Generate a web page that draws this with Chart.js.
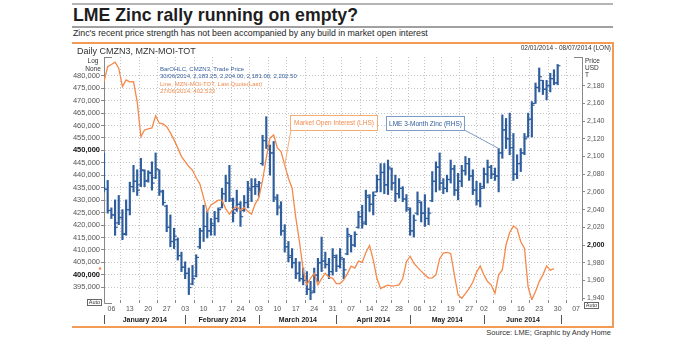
<!DOCTYPE html>
<html>
<head>
<meta charset="utf-8">
<title>LME Zinc rally running on empty?</title>
<script src="https://cdn.jsdelivr.net/npm/chart.js@4.4.1/dist/chart.umd.min.js"></script>
<style>
  html, body { margin: 0; padding: 0; background: #fff; }
  body { position: relative; width: 692px; height: 338px; overflow: hidden;
         font-family: "Liberation Sans", Arial, sans-serif; color: #1e1e1e; }
  .txt { position: absolute; white-space: nowrap; }
  .rule { position: absolute; left: 72px; width: 541px; height: 2px; background: #b4b4b4; }
  .frame { position: absolute; background: #f39b55; }
  #title { left: 73px; top: 7px; font-size: 17.7px; line-height: 17.5px; font-weight: bold; }
  #subtitle { left: 73px; top: 29.3px; font-size: 8.8px; line-height: 8.8px; }
  #source { right: 81px; top: 328.6px; font-size: 7.5px; line-height: 7.5px; color: #333; }
  canvas { position: absolute; left: 0; top: 0; }
</style>
</head>
<body>
<div class="rule" style="top:3px"></div>
<div class="txt" id="title">LME Zinc rally running on empty?</div>
<div class="rule" style="top:26px;background:#a0a0a0"></div>
<div class="txt" id="subtitle">Zinc's recent price strength has not been accompanied by any build in market open interest</div>
<div class="frame" style="left:72px;top:42px;width:542px;height:1.5px"></div>
<div class="frame" style="left:612px;top:42px;width:2px;height:285px"></div>
<div class="frame" style="left:72px;top:325.5px;width:542px;height:2px"></div>
<div class="txt" id="source">Source: LME; Graphic by Andy Home</div>
<canvas id="chart" width="692" height="338"></canvas>

<script>
const FONT = "'Liberation Sans', Arial, sans-serif";

// --- data ---
// LME 3-month zinc, daily bars (USD/T), 2 Jan - 30 Jun 2014
const priceOpen = [
  2098, 2063, 2039, 2034, 2025, 2031, 2013, 2040, 2066, 2072, 2068, 2084, 2073, 2081, 2076, 2085, 2060, 2044, 2020, 2004,
  2006, 1988, 1975, 1968, 1956, 1965, 1998, 2016, 2021, 2016, 2022, 2030, 2042, 2058, 2070, 2050, 2040, 2046, 2039, 2048,
  2062, 2066, 2066, 2092, 2118, 2108, 2104, 2052, 2044, 2016, 1998, 1988, 1980, 1968, 1962, 1960, 1950, 1948, 1966, 1980,
  1982, 1978, 1970, 1986, 1976, 1984, 1990, 2010, 2000, 2020, 2032, 2026, 2054, 2046, 2060, 2074, 2082, 2068, 2086, 2070,
  2058, 2064, 2052, 2040, 2016, 2036, 2048, 2036, 2030, 2050, 2072, 2088, 2070, 2064, 2074, 2086, 2062, 2072, 2084, 2092,
  2078, 2062, 2050, 2066, 2080, 2088, 2080, 2078, 2104, 2130, 2120, 2110, 2080, 2092, 2104, 2122, 2142, 2160, 2178, 2186,
  2176, 2180, 2188, 2183.25
];
const priceHigh = [
  2104, 2073, 2042, 2051, 2056, 2040, 2051, 2071, 2090, 2085, 2098, 2085, 2084, 2094, 2104, 2085, 2062, 2045, 2034, 2019,
  2008, 1992, 1981, 1974, 1977, 1989, 2019, 2045, 2038, 2030, 2038, 2042, 2064, 2079, 2090, 2053, 2062, 2049, 2056, 2072,
  2075, 2075, 2072, 2124, 2145, 2113, 2117, 2057, 2049, 2023, 2004, 1996, 1985, 1981, 1974, 1970, 1959, 1974, 1985, 2009,
  1992, 1985, 1996, 1989, 1996, 1985, 2019, 2011, 2015, 2038, 2045, 2062, 2057, 2060, 2079, 2092, 2092, 2096, 2087, 2079,
  2075, 2066, 2057, 2042, 2034, 2060, 2049, 2057, 2042, 2083, 2094, 2104, 2075, 2079, 2096, 2090, 2081, 2090, 2100, 2098,
  2085, 2072, 2070, 2087, 2096, 2090, 2087, 2109, 2147, 2143, 2149, 2126, 2102, 2109, 2126, 2149, 2162, 2183, 2200, 2186,
  2186, 2194, 2198, 2204
];
const priceLow = [
  2060, 2036, 2030, 2011, 2023, 2006, 2011, 2034, 2060, 2056, 2066, 2066, 2071, 2062, 2075, 2056, 2045, 2015, 1998, 1996,
  1983, 1970, 1962, 1944, 1955, 1964, 1996, 2004, 2008, 2011, 2011, 2026, 2042, 2049, 2049, 2026, 2038, 2021, 2038, 2042,
  2049, 2057, 2055, 2090, 2109, 2079, 2049, 2034, 2011, 1992, 1981, 1974, 1962, 1959, 1955, 1944, 1938, 1946, 1959, 1970,
  1974, 1962, 1966, 1970, 1974, 1962, 1989, 1992, 1998, 2019, 2019, 2023, 2038, 2034, 2060, 2060, 2058, 2057, 2062, 2049,
  2053, 2049, 2038, 2011, 2009, 2034, 2026, 2021, 2023, 2049, 2060, 2062, 2058, 2060, 2070, 2056, 2051, 2066, 2079, 2073,
  2057, 2045, 2043, 2064, 2070, 2075, 2073, 2060, 2098, 2109, 2102, 2073, 2075, 2083, 2102, 2122, 2122, 2160, 2173, 2170,
  2164, 2173, 2181, 2181
];
const priceClose = [
  2063, 2039, 2034, 2020, 2031, 2012, 2040, 2066, 2072, 2062, 2085, 2072, 2082, 2070, 2086, 2061, 2048, 2020, 2004, 2010,
  1988, 1975, 1968, 1952, 1962, 1986, 2016, 2021, 2016, 2024, 2030, 2040, 2058, 2070, 2052, 2036, 2046, 2032, 2048, 2064,
  2066, 2068, 2070, 2118, 2112, 2104, 2054, 2042, 2016, 1998, 1986, 1980, 1968, 1962, 1960, 1950, 1946, 1966, 1980, 1982,
  1978, 1970, 1988, 1976, 1986, 1972, 2012, 2000, 2012, 2032, 2024, 2056, 2046, 2056, 2074, 2082, 2068, 2088, 2070, 2058,
  2064, 2052, 2042, 2016, 2028, 2050, 2036, 2030, 2036, 2072, 2088, 2070, 2064, 2074, 2086, 2062, 2072, 2084, 2092, 2078,
  2062, 2050, 2064, 2080, 2088, 2080, 2078, 2104, 2130, 2120, 2110, 2080, 2092, 2104, 2120, 2142, 2158, 2178, 2190, 2176,
  2180, 2188, 2183, 2202.5
];

// MZN market open interest (lots), 2 Jan - 27 Jun 2014
const openInterest = [
  477600, 483600, 484500, 485400, 483000, 475600, 478300, 477500, 477600, 469600,
  455500, 458200, 458600, 459000, 463900, 460900, 460600, 459500, 457000, 454200,
  451000, 447500, 445500, 443500, 442000, 439000, 436500, 431000, 425400, 428100,
  429000, 430000, 430000, 426500, 424400, 426500, 427400, 426000, 427000, 425500,
  424400, 428500, 431000, 438000, 447000, 454900, 456200, 451000, 449500, 444100,
  438800, 434800, 423000, 413300, 402000, 396000, 398600, 400600, 396000, 398500,
  400600, 399000, 398700, 396500, 396500, 398000, 400500, 403500, 402700, 405500,
  405000, 409000, 411800, 406000, 398500, 394500, 395300, 395900, 395500, 395700,
  396000, 398500, 405300, 407500, 404700, 403000, 401500, 400000, 398700, 398800,
  400000, 406500, 408700, 409000, 408600, 400000, 391900, 390600, 392500, 394600,
  397000, 401000, 403600, 400000, 397300, 395900, 392600, 400000, 402000, 412000,
  417000, 419600, 418500, 413300, 410700, 395000, 390000, 393300, 397300, 400000,
  403600, 401900, 402533
];

const oiTicks = [395000, 400000, 405000, 410000, 415000, 420000, 425000, 430000, 435000,
                 440000, 445000, 450000, 455000, 460000, 465000, 470000, 475000, 480000];
const priceTicks = [1940, 1960, 1980, 2000, 2020, 2040, 2060, 2080, 2100, 2120, 2140, 2160, 2180];
const boldTicks = [400000, 450000, 2000];
const monthNames = ['January 2014', 'February 2014', 'March 2014', 'April 2014', 'May 2014', 'June 2014', 'July 2014'];
const ukHolidays = ['2014-01-01', '2014-04-18', '2014-04-21', '2014-05-05', '2014-05-26'];

// --- trading calendar (x axis runs on trading days) ---
const tradingDays = [];
for (let t = Date.UTC(2014, 0, 2); t <= Date.UTC(2014, 6, 8); t += 86400000) {
  const d = new Date(t);
  const iso = d.toISOString().slice(0, 10);
  if (d.getUTCDay() === 0 || d.getUTCDay() === 6 || ukHolidays.includes(iso)) continue;
  tradingDays.push(d);
}
const weekStarts = tradingDays.map((d, i) => i).filter(i => i > 0 && tradingDays[i].getUTCDay() < tradingDays[i - 1].getUTCDay());
const monthStarts = tradingDays.map((d, i) => i).filter(i => i === 0 || tradingDays[i].getUTCMonth() !== tradingDays[i - 1].getUTCMonth());

const BLUE = '#2f5e9e';
const ORANGE = '#f5894a';

// --- decorations: captions, month row, callouts ---
const chartDecor = {
  id: 'chartDecor',
  afterDraw(chart) {
    const { ctx, chartArea: area } = chart;
    const { x, yL, yR } = chart.scales;
    ctx.save();
    ctx.textBaseline = 'middle';

    ctx.fillStyle = '#333';
    ctx.textAlign = 'left';
    ctx.font = `9px ${FONT}`;
    ctx.fillText('Daily CMZN3, MZN-MOI-TOT', 77, 51.5);
    ctx.font = `6.5px ${FONT}`;
    ctx.textAlign = 'right';
    ctx.fillText('02/01/2014 - 08/07/2014 (LON)', 611, 48);

    ctx.textAlign = 'center';
    ctx.fillText('Log', 93, 61.5);
    ctx.fillText('None', 93, 69);
    ctx.textAlign = 'left';
    ctx.fillText('Price', area.right + 3, 61);
    ctx.fillText('USD', area.right + 3, 68);
    ctx.fillText('T', area.right + 3, 75);

    // axis brackets
    ctx.strokeStyle = '#888';
    ctx.lineWidth = 1;
    ctx.beginPath();
    ctx.moveTo(area.left, area.top + 0.5); ctx.lineTo(area.left + 8, area.top + 0.5);
    ctx.moveTo(area.right, area.top + 0.5); ctx.lineTo(area.right - 8, area.top + 0.5);
    ctx.moveTo(area.left + 0.5, area.bottom); ctx.lineTo(area.left + 0.5, area.bottom + 3.5);
    ctx.lineTo(area.left + 8, area.bottom + 3.5);
    ctx.stroke();

    // Auto buttons
    ctx.font = `5.5px ${FONT}`;
    [[87, 299], [584, 302]].forEach(([bx, by]) => {
      ctx.fillStyle = '#fff';
      ctx.fillRect(bx, by, 14, 6);
      ctx.strokeStyle = '#666';
      ctx.strokeRect(bx + 0.5, by + 0.5, 14, 6);
      ctx.fillStyle = '#333';
      ctx.textAlign = 'center';
      ctx.fillText('Auto', bx + 7.5, by + 3.6);
    });

    // legend block
    ctx.textAlign = 'left';
    ctx.font = `6px ${FONT}`;
    ctx.fillStyle = '#3a62a0';
    ctx.fillText('BarOHLC, CMZN3, Trade Price', 160, 69);
    const last = priceClose.length - 1;
    const fmt = v => v.toLocaleString('en-US', { minimumFractionDigits: 2, maximumFractionDigits: 2 });
    ctx.fillText(`30/06/2014, ${fmt(priceOpen[last])}, ${fmt(priceHigh[last])}, ${fmt(priceLow[last])}, ${fmt(priceClose[last])}`, 160, 76.5);
    ctx.fillStyle = '#f08c50';
    ctx.fillText('Line, MZN-MOI-TOT, Last Quote(Last)', 160, 84);
    ctx.fillText(`27/06/2014, ${openInterest[openInterest.length - 1].toLocaleString('en-US')}`, 160, 91.5);

    // last open interest marker on the left axis
    ctx.fillStyle = ORANGE;
    ctx.beginPath();
    ctx.arc(area.left - 4, yL.getPixelForValue(openInterest[openInterest.length - 1]), 1.3, 0, Math.PI * 2);
    ctx.fill();

    // month row
    ctx.strokeStyle = '#555';
    ctx.fillStyle = '#222';
    ctx.font = `bold 7px ${FONT}`;
    ctx.textAlign = 'center';
    monthStarts.forEach((i, k) => {
      const x0 = Math.round(x.getPixelForValue(i)) + 0.5;
      ctx.beginPath();
      ctx.moveTo(x0, 315); ctx.lineTo(x0, 324);
      ctx.stroke();
      const x1 = k + 1 < monthStarts.length ? x.getPixelForValue(monthStarts[k + 1]) : area.right;
      if (x1 - x0 > 50) ctx.fillText(monthNames[tradingDays[i].getUTCMonth()], (x0 + x1) / 2, 320);
    });

    // callouts
    const callout = (bx, by, bw, bh, label, stroke, color, px, py, fromX) => {
      ctx.strokeStyle = stroke;
      ctx.lineWidth = 1;
      ctx.beginPath();
      ctx.moveTo(fromX, by + bh);
      ctx.lineTo(px, py);
      ctx.stroke();
      ctx.fillStyle = '#fff';
      ctx.fillRect(bx, by, bw, bh);
      ctx.strokeRect(bx + 0.5, by + 0.5, bw, bh);
      ctx.fillStyle = color;
      ctx.font = `6.5px ${FONT}`;
      ctx.textAlign = 'center';
      ctx.fillText(label, bx + bw / 2 + 0.5, by + bh / 2 + 1);
    };
    callout(290, 115, 87, 15, 'Market Open Interest (LHS)', '#f6ad74', '#f08c50',
            x.getPixelForValue(49), yL.getPixelForValue(openInterest[49]), 291);
    callout(386, 116, 78, 14, 'LME 3-Month Zinc (RHS)', '#7f9cc6', '#2d5a9a',
            x.getPixelForValue(107), yR.getPixelForValue(priceHigh[107]), 464.5);

    ctx.restore();
  }
};

const tickFont = size => ctx => ({
  family: FONT, size,
  weight: ctx.tick && boldTicks.includes(ctx.tick.value) ? 'bold' : 'normal'
});
const tickColor = ctx => (ctx.tick && boldTicks.includes(ctx.tick.value) ? '#111' : '#555');

new Chart(document.getElementById('chart'), {
  type: 'bar',
  data: {
    datasets: [
      {
        type: 'line',
        label: 'Market Open Interest (LHS)',
        yAxisID: 'yL',
        data: openInterest.map((v, i) => ({ x: i, y: v })),
        borderColor: ORANGE,
        borderWidth: 1.3,
        pointRadius: 0,
        tension: 0,
        order: 0
      },
      {
        label: 'LME 3-Month Zinc (RHS)',
        yAxisID: 'yR',
        data: priceHigh.map((h, i) => ({ x: i, y: [priceLow[i], h] })),
        backgroundColor: BLUE,
        barThickness: 1.5,
        grouped: false,
        order: 2
      },
      {
        type: 'scatter',
        label: 'open',
        yAxisID: 'yR',
        data: priceOpen.map((v, i) => ({ x: i - 0.42, y: v })),
        pointStyle: 'line',
        pointRadius: 1.2,
        borderColor: BLUE,
        borderWidth: 1.2,
        order: 1
      },
      {
        type: 'scatter',
        label: 'close',
        yAxisID: 'yR',
        data: priceClose.map((v, i) => ({ x: i + 0.42, y: v })),
        pointStyle: 'line',
        pointRadius: 1.2,
        borderColor: BLUE,
        borderWidth: 1.2,
        order: 1
      }
    ]
  },
  options: {
    responsive: false,
    animation: false,
    events: [],
    layout: { padding: { top: 57 } },
    plugins: { legend: { display: false }, tooltip: { enabled: false } },
    scales: {
      x: {
        type: 'linear',
        min: 0,
        max: 129.6,
        offset: false,
        afterBuildTicks: scale => { scale.ticks = weekStarts.map(v => ({ value: v })); },
        afterFit: scale => { scale.height = 38; },
        ticks: {
          autoSkip: false,
          maxRotation: 0,
          padding: 2,
          color: '#555',
          font: { family: FONT, size: 7 },
          callback: v => String(tradingDays[v].getUTCDate()).padStart(2, '0')
        },
        grid: { color: '#c4c4c4', tickColor: '#888', tickLength: 3 },
        border: { display: false, dash: [1, 2] }
      },
      yL: {
        type: 'linear',
        position: 'left',
        min: 389900,
        max: 487500,
        afterBuildTicks: scale => { scale.ticks = oiTicks.map(v => ({ value: v })); },
        afterFit: scale => { scale.width = 104; },
        ticks: {
          padding: 1,
          color: tickColor,
          font: tickFont(7.5),
          callback: v => v.toLocaleString('en-US')
        },
        grid: { color: '#c4c4c4', tickColor: '#888', tickLength: 3 },
        border: { color: '#888', width: 1, dash: [1, 2] }
      },
      yR: {
        type: 'linear',
        position: 'right',
        min: 1937.9,
        max: 2212.4,
        afterBuildTicks: scale => { scale.ticks = priceTicks.map(v => ({ value: v })); },
        afterFit: scale => { scale.width = 110; },
        ticks: {
          padding: 2,
          color: tickColor,
          font: tickFont(7),
          callback: v => v.toLocaleString('en-US')
        },
        grid: { drawOnChartArea: false, tickColor: '#888', tickLength: 3 },
        border: { color: '#888', width: 1 }
      }
    }
  },
  plugins: [chartDecor]
});
</script>
</body>
</html>
